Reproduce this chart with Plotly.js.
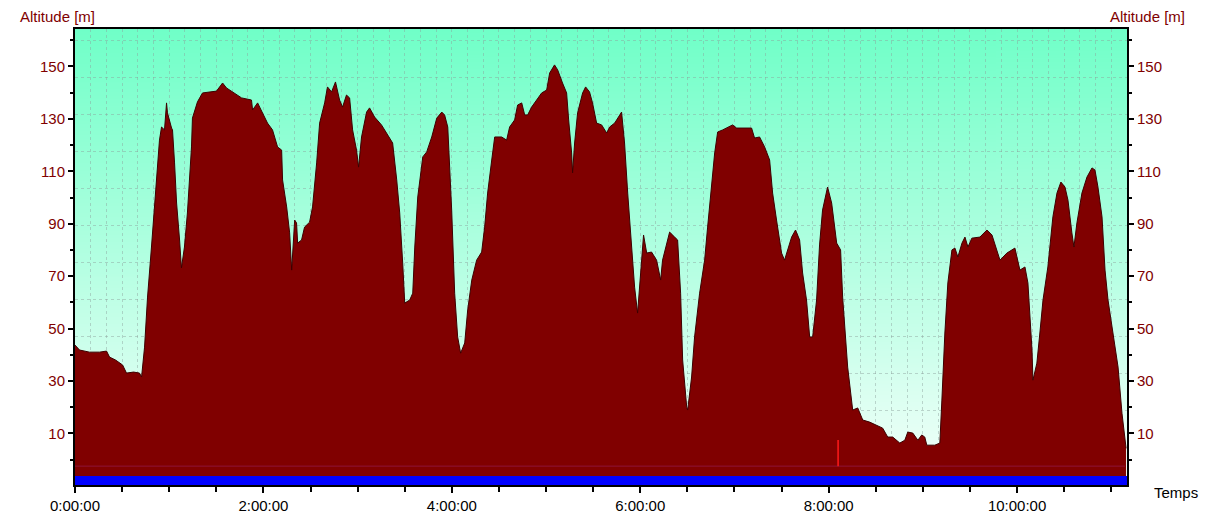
<!DOCTYPE html>
<html>
<head>
<meta charset="utf-8">
<script src="https://cdn.plot.ly/plotly-3.0.1.min.js"></script>
<style>
html,body{margin:0;padding:0;background:#fff;}
#chart{width:1212px;height:523px;}
</style>
</head>
<body>
<div id="chart"></div>
<script>
// elapsed time in minutes
const timeMin = [0, 2.9, 9.2, 15.6, 20.1, 22.0, 25.8, 30.3, 32.8, 37.3,
41.1, 42.4, 44.3, 46.2, 48.7, 51.9, 53.8, 55.1, 57.0, 58.3,
58.9, 61.5, 62.1, 63.4, 64.7, 66.6, 67.8, 69.7, 71.6, 74.2,
74.8, 78.0, 81.2, 90.1, 94.0, 96.5, 100.3, 106.1, 112.4, 113.1,
116.3, 119.4, 122.6, 125.8, 129.0, 131.6, 132.2, 134.8, 136.7, 138.0,
139.9, 141.1, 141.8, 144.3, 146.2, 149.4, 151.3, 153.9, 155.8, 159.0,
160.8, 163.4, 165.9, 168.5, 170.4, 172.9, 174.9, 176.8, 179.3, 180.6,
182.5, 185.7, 187.6, 190.8, 195.2, 198.4, 202.3, 204.9, 206.8, 208.7,
210.0, 213.2, 215.1, 216.4, 218.3, 221.5, 224.0, 227.2, 230.4, 233.6,
235.4, 237.4, 239.9, 241.8, 243.7, 245.6, 248.2, 250.1, 252.7, 255.8,
259.0, 260.9, 262.8, 265.4, 267.3, 271.7, 274.9, 276.8, 280.0, 281.9,
284.5, 286.4, 288.3, 290.8, 294.0, 297.2, 300.4, 302.3, 305.4, 307.4,
310.5, 313.1, 314.4, 316.3, 316.9, 318.2, 320.1, 323.3, 325.2, 327.7,
329.6, 332.2, 335.4, 338.6, 340.5, 343.7, 348.1, 350.0, 352.0, 354.5,
356.4, 358.3, 360.9, 362.1, 364.1, 367.2, 370.4, 373.0, 374.2, 376.8,
378.7, 381.9, 383.8, 385.7, 387.0, 389.6, 390.2, 392.7, 394.6, 397.8,
401.0, 402.9, 405.5, 407.4, 409.3, 412.5, 418.8, 421.4, 430.9, 432.8,
436.0, 439.2, 442.4, 444.3, 446.8, 450.0, 451.9, 453.8, 456.4, 458.9,
461.5, 463.4, 465.9, 467.9, 469.8, 472.3, 474.2, 476.1, 479.3, 481.9,
485.1, 487.6, 488.9, 492.1, 495.3, 498.5, 501.7, 506.1, 510.6, 514.4,
517.6, 520.8, 525.3, 528.5, 530.4, 533.6, 536.8, 539.3, 541.2, 542.5,
547.6, 550.8, 552.1, 554.0, 555.9, 558.5, 560.4, 562.3, 564.9, 566.8,
568.7, 571.2, 576.3, 580.8, 584.0, 587.2, 589.1, 593.5, 598.6, 601.8,
605.0, 606.9, 609.5, 610.1, 612.6, 614.5, 616.5, 619.6, 622.8, 625.4,
627.9, 630.5, 632.4, 634.9, 636.2, 638.1, 641.3, 644.5, 647.7, 649.6,
651.5, 654.1, 656.0, 657.9, 661.1, 664.3, 666.8, 668.7, 669.4];

// altitude in metres
const altitude = [43.7, 41.8, 41.0, 41.0, 41.4, 39.1, 38.0, 36.1, 33.0, 33.4,
33.0, 31.5, 42.9, 62.0, 81.1, 106.7, 121.9, 126.9, 125.8, 136.1,
132.3, 126.5, 125.8, 113.2, 97.9, 83.8, 73.1, 81.1, 94.1, 119.3,
130.3, 136.5, 139.9, 140.6, 143.7, 141.8, 140.3, 138.0, 137.2, 133.4,
136.1, 132.3, 128.4, 125.8, 119.3, 118.1, 106.7, 96.4, 86.5, 72.3,
91.4, 90.3, 82.6, 83.8, 88.7, 90.6, 96.4, 113.2, 128.4, 136.1,
142.2, 140.3, 144.1, 137.2, 134.5, 139.1, 138.0, 125.8, 118.1, 111.6,
123.1, 132.6, 134.2, 130.7, 127.7, 124.6, 120.8, 106.7, 94.1, 75.0,
59.7, 60.9, 63.5, 81.1, 100.2, 115.5, 117.4, 123.1, 130.3, 132.6,
131.5, 126.9, 95.2, 63.5, 46.8, 40.6, 44.5, 57.1, 68.5, 76.1,
79.2, 88.7, 101.7, 114.3, 123.1, 123.1, 121.9, 126.9, 129.6, 135.3,
136.1, 131.5, 131.5, 134.5, 137.2, 139.9, 141.0, 147.5, 150.6, 148.7,
143.7, 139.9, 129.6, 117.0, 109.4, 120.8, 132.3, 139.9, 142.2, 140.3,
136.1, 128.4, 127.7, 124.6, 126.9, 128.4, 132.6, 120.8, 101.7, 82.6,
65.8, 55.9, 76.1, 85.7, 78.8, 79.2, 76.1, 68.5, 76.1, 82.6,
86.8, 84.9, 83.8, 63.5, 38.0, 20.0, 18.9, 31.5, 46.8, 63.5,
76.1, 88.7, 104.0, 117.0, 125.0, 125.8, 127.7, 126.5, 126.5, 122.7,
123.1, 119.3, 114.3, 101.7, 91.4, 78.8, 76.1, 80.0, 84.9, 87.6,
83.8, 71.2, 60.9, 46.8, 46.8, 60.9, 81.9, 95.2, 104.0, 97.9,
82.6, 80.0, 62.0, 35.3, 18.9, 19.7, 15.1, 14.3, 13.2, 12.0,
8.6, 8.6, 6.3, 7.4, 10.5, 10.1, 7.4, 9.4, 8.6, 5.5,
5.5, 6.3, 22.7, 48.3, 67.4, 80.0, 80.7, 77.3, 82.6, 84.9,
81.1, 84.5, 84.9, 87.6, 85.7, 80.0, 76.1, 78.8, 80.7, 72.3,
73.5, 67.4, 41.8, 30.3, 36.8, 48.3, 60.9, 73.5, 92.6, 101.7,
105.9, 104.0, 99.0, 86.5, 81.1, 90.3, 101.7, 107.8, 111.3, 110.5,
104.0, 92.6, 72.3, 60.9, 48.3, 35.3, 17.7, 7.4, 4.4];

const xTickVals = [0, 120, 240, 360, 480, 600];
const xTickText = ['0:00:00', '2:00:00', '4:00:00', '6:00:00', '8:00:00', '10:00:00'];
const xMinorVals = [0, 30, 60, 90, 120, 150, 180, 210, 240, 270, 300, 330, 360, 390, 420, 450, 480, 510, 540, 570, 600, 630, 660];
const yTickVals = [10, 30, 50, 70, 90, 110, 130, 150];
const yMinorVals = [0, 20, 40, 60, 80, 100, 120, 140, 160];

const X_RANGE = [0, 670];
const Y_RANGE = [-9.7, 164.3];
const MARKER_TIME = 486;

const FONT = 'Liberation Sans, Arial, sans-serif';
const FS = 15;
const MAROON = '#800000';

// background gradient image
const cv = document.createElement('canvas');
cv.width = 4; cv.height = 256;
const cx = cv.getContext('2d');
const gr = cx.createLinearGradient(0, 0, 0, 256);
gr.addColorStop(0, 'rgb(112,255,200)');
gr.addColorStop(1, 'rgb(245,255,251)');
cx.fillStyle = gr;
cx.fillRect(0, 0, 4, 256);
const bgURL = cv.toDataURL('image/png');

const gridStyle = {showgrid: true, gridcolor: 'rgba(140,160,155,0.45)', gridwidth: 1, griddash: '3px,3px'};

const traces = [
  {x: [timeMin[0], timeMin[timeMin.length - 1]], y: [Y_RANGE[0], Y_RANGE[0]],
   mode: 'lines', line: {width: 0, color: 'rgba(0,0,0,0)'}, hoverinfo: 'skip', showlegend: false},
  {x: timeMin, y: altitude, mode: 'lines', fill: 'tonexty', fillcolor: '#800000',
   line: {color: '#3c0000', width: 1}, showlegend: false, name: 'Altitude'},
  {x: [], y: [], xaxis: 'x2', yaxis: 'y2', showlegend: false},
  {x: [], y: [], xaxis: 'x', yaxis: 'y3', showlegend: false}
];

const layout = {
  width: 1212, height: 523,
  margin: {l: 75, r: 85, t: 29, b: 38, pad: 0},
  paper_bgcolor: '#ffffff',
  plot_bgcolor: 'rgba(0,0,0,0)',
  showlegend: false,
  font: {family: FONT, size: FS, color: '#000'},
  xaxis: Object.assign({range: X_RANGE, tickmode: 'linear', tick0: 0, dtick: 10,
    ticks: '', showticklabels: false, zeroline: false,
    showline: true, linecolor: '#000', linewidth: 2, mirror: true}, gridStyle),
  yaxis: Object.assign({range: Y_RANGE, tickmode: 'linear', tick0: Y_RANGE[0], dtick: 14.12,
    ticks: '', showticklabels: false, zeroline: false,
    showline: true, linecolor: '#000', linewidth: 2, mirror: true}, gridStyle),
  xaxis2: {overlaying: 'x', anchor: 'y', side: 'bottom', range: X_RANGE,
    tickmode: 'array', tickvals: xTickVals, ticktext: xTickText,
    ticks: 'outside', ticklen: 7, tickwidth: 2, tickcolor: '#000',
    minor: {tickmode: 'array', tickvals: xMinorVals, ticks: 'outside', ticklen: 6, tickwidth: 2, tickcolor: '#000', showgrid: false},
    showgrid: false, zeroline: false, showline: false,
    tickfont: {family: FONT, size: FS, color: '#000'}},
  yaxis2: {overlaying: 'y', anchor: 'x', side: 'left', range: Y_RANGE,
    tickmode: 'array', tickvals: yTickVals,
    ticks: 'outside', ticklen: 6, tickwidth: 2, tickcolor: '#000',
    minor: {tickmode: 'array', tickvals: yMinorVals, ticks: 'outside', ticklen: 4, tickwidth: 2, tickcolor: '#000', showgrid: false},
    showgrid: false, zeroline: false, showline: false,
    tickfont: {family: FONT, size: FS, color: MAROON}},
  yaxis3: {overlaying: 'y', anchor: 'x', side: 'right', range: Y_RANGE,
    tickmode: 'array', tickvals: yTickVals,
    ticks: 'outside', ticklen: 6, tickwidth: 2, tickcolor: '#000',
    minor: {tickmode: 'array', tickvals: yMinorVals, ticks: 'outside', ticklen: 4, tickwidth: 2, tickcolor: '#000', showgrid: false},
    showgrid: false, zeroline: false, showline: false,
    tickfont: {family: FONT, size: FS, color: MAROON}},
  images: [{source: bgURL, xref: 'x', yref: 'y', x: X_RANGE[0], y: Y_RANGE[1],
    sizex: X_RANGE[1] - X_RANGE[0], sizey: Y_RANGE[1] - Y_RANGE[0],
    sizing: 'stretch', xanchor: 'left', yanchor: 'top', layer: 'below'}],
  shapes: [
    {type: 'line', xref: 'x domain', yref: 'y', x0: 0, x1: 0.998, y0: -2.5, y1: -2.5,
     line: {color: '#8c1438', width: 1}, layer: 'above'},
    {type: 'rect', xref: 'x domain', yref: 'y', x0: 0, x1: 1, y0: Y_RANGE[0], y1: -6.3,
     fillcolor: '#0000ff', line: {width: 0}, layer: 'above'},
    {type: 'line', xref: 'x', yref: 'y', x0: MARKER_TIME, x1: MARKER_TIME, y0: -2.5, y1: 7.5,
     line: {color: '#ff1a1a', width: 1.5}, layer: 'above'}
  ],
  annotations: [
    {text: 'Altitude [m]', xref: 'paper', yref: 'paper', x: -0.0542, y: 1.0285,
     xanchor: 'left', yanchor: 'middle', showarrow: false, font: {family: FONT, size: FS, color: MAROON}},
    {text: 'Altitude [m]', xref: 'paper', yref: 'paper', x: 0.982, y: 1.0285,
     xanchor: 'left', yanchor: 'middle', showarrow: false, font: {family: FONT, size: FS, color: MAROON}},
    {text: 'Temps', xref: 'paper', yref: 'paper', x: 1.0238, y: -0.0154,
     xanchor: 'left', yanchor: 'middle', showarrow: false, font: {family: FONT, size: FS, color: '#000'}}
  ]
};

Plotly.newPlot('chart', traces, layout, {displayModeBar: false, staticPlot: true});
</script>
</body>
</html>
